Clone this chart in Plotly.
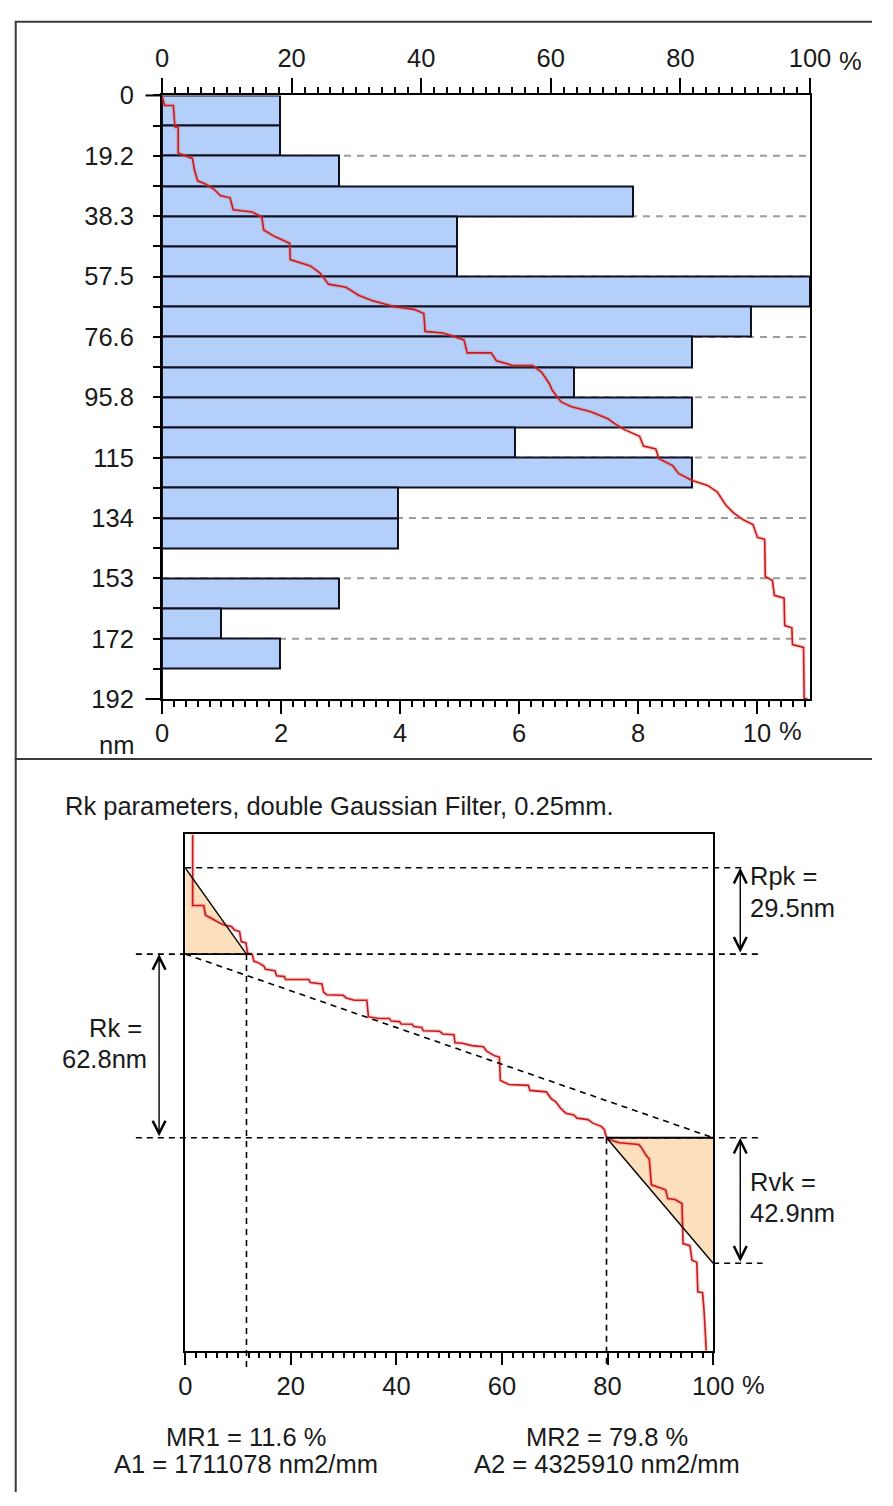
import plotly.graph_objects as go

W, H = 893, 1506
FONT = "Arial, Liberation Sans, sans-serif"
FS = 25.5
INK = "#1a1a1a"

# ---------------- upper panel: height distribution ----------------
class_edges = [0.0, 9.58, 19.16, 28.74, 38.32, 47.90, 57.48, 67.06, 76.64, 86.22,
               95.80, 105.38, 114.96, 124.54, 134.12, 143.70, 153.28, 162.86,
               172.44, 182.02, 191.60]
class_share = [1.98, 1.98, 2.97, 7.92, 4.95, 4.95, 10.89, 9.90, 8.91, 6.93,
               8.91, 5.94, 8.91, 3.96, 3.96, 0.00, 2.97, 0.99, 1.98, 0.00]
depth_ticktext = ["0", "19.2", "38.3", "57.5", "76.6", "95.8", "115", "134",
                  "153", "172", "192"]
share_ticks = [0, 2, 4, 6, 8, 10]
ratio_ticks = [0, 20, 40, 60, 80, 100]

# bearing-ratio curve of the profile (cumulative %, depth nm)
curve_ratio = [0.0, 0.4, 1.75, 2.0, 2.5, 2.5, 3.4, 4.7, 5.0, 5.5, 6.7, 8.0, 9.0,
               10.5, 11.0, 13.9, 15.4, 15.7, 17.4, 19.7, 19.8, 22.9, 24.4, 25.7,
               28.4, 30.4, 32.4, 35.9, 38.9, 40.4, 40.6, 43.3, 44.5, 46.6, 47.1,
               50.8, 51.6, 54.1, 57.2, 58.6, 59.8, 60.2, 61.6, 63.2, 66.2, 68.8,
               69.8, 71.3, 73.7, 74.3, 76.2, 76.7, 78.8, 79.7, 81.8, 84.2, 85.7,
               87.0, 88.2, 89.7, 91.2, 91.9, 93.0, 93.1, 94.2, 94.5, 96.0, 96.1,
               97.2, 97.3, 99.0, 99.1, 99.6]
curve_depth = [0.0, 3.2, 3.2, 10.0, 10.0, 18.3, 19.0, 20.0, 23.5, 27.1, 28.1,
               29.7, 31.8, 32.5, 36.3, 37.0, 38.6, 42.7, 44.8, 46.9, 52.1, 54.1,
               56.4, 59.9, 60.9, 63.5, 65.1, 67.1, 67.9, 69.2, 74.9, 75.4, 76.1,
               77.6, 81.7, 81.7, 84.2, 85.7, 85.7, 87.9, 91.6, 93.5, 97.3, 98.8,
               100.4, 102.6, 104.1, 106.0, 108.2, 111.3, 112.2, 115.3, 117.5,
               120.0, 122.2, 123.8, 125.9, 130.0, 132.5, 134.7, 136.2, 140.3,
               140.9, 152.7, 154.0, 158.7, 159.6, 168.3, 169.0, 174.3, 175.2,
               191.4, 191.6]

# ---------------- lower panel: Rk evaluation ----------------
rk_ratio = [1.41, 1.41, 3.5, 3.85, 5.1, 6.6, 7.5, 8.75, 9.36, 10.3, 10.6, 11.5,
            11.8, 12.7, 13.0, 13.9, 14.9, 15.2, 17.0, 17.3, 18.8, 19.0, 23.4,
            23.7, 25.9, 26.2, 26.8, 29.9, 30.5, 32.0, 34.4, 34.7, 36.6, 38.7,
            39.0, 40.6, 40.9, 43.0, 43.3, 44.8, 45.1, 48.2, 48.8, 50.9, 51.1,
            52.5, 54.3, 56.5, 57.1, 58.6, 59.5, 59.7, 61.3, 65.0, 65.3, 68.4,
            69.3, 70.2, 71.1, 72.1, 73.6, 74.2, 76.3, 77.2, 78.8, 79.4, 79.7,
            80.3, 82.2, 85.9, 86.4, 87.3, 87.9, 88.3, 89.5, 91.0, 91.4, 92.8,
            94.1, 94.3, 95.6, 96.0, 96.9, 97.1, 98.0, 98.3, 98.7]
rk_depth = [0.0, 24.3, 24.3, 27.6, 28.8, 30.4, 31.0, 31.5, 32.7, 33.2, 36.6,
            37.1, 40.5, 41.0, 43.3, 43.9, 45.0, 46.1, 46.6, 48.3, 48.6, 49.6,
            49.6, 50.6, 51.1, 53.9, 54.8, 55.0, 55.9, 56.7, 56.7, 62.3, 62.9,
            62.9, 63.8, 64.0, 64.8, 64.9, 65.7, 66.0, 67.1, 67.3, 68.2, 68.5,
            71.2, 71.4, 72.2, 72.6, 74.1, 75.7, 76.1, 84.1, 85.5, 85.8, 87.5,
            88.0, 90.3, 91.4, 93.6, 95.3, 95.9, 97.0, 97.5, 98.7, 99.8, 100.9,
            103.1, 104.3, 105.4, 106.0, 107.0, 109.7, 111.0, 119.8, 120.5,
            121.5, 124.5, 124.8, 126.2, 139.9, 140.6, 145.6, 146.3, 156.4,
            156.7, 163.4, 176.5]
RPK, RK, RVK = 29.5, 62.8, 42.9
MR1, MR2 = 11.6, 79.8
A1, A2 = 1711078, 4325910
RK_TOP = 40.9          # upper Rk level, nm below the highest peak
RK_DEPTH_MAX = 176.5   # profile depth shown in the lower panel
PEAK_LINE = RK_TOP - RPK
RK_BOTTOM = RK_TOP + RK
VALLEY_LINE = RK_BOTTOM + RVK


def px(x):
    return x / W


def py(y):
    return 1 - y / H


def dom3(depth):
    """Depth (nm) as a fraction of the lower panel height (reversed axis)."""
    return 1 - depth / RK_DEPTH_MAX


BAR_FILL = "#B4D0FA"
BAR_EDGE = "#101020"
RED = "#C81A1A"
PEACH = "#FCE0BE"
GRID = "#9C9C9C"

fig = go.Figure()

# histogram classes
centers = [(a + b) / 2 for a, b in zip(class_edges[:-1], class_edges[1:])]
widths = [b - a for a, b in zip(class_edges[:-1], class_edges[1:])]
fig.add_trace(go.Bar(
    x=class_share, y=centers, width=widths, orientation="h",
    marker=dict(color=BAR_FILL, line=dict(color=BAR_EDGE, width=2)),
    xaxis="x", yaxis="y", hoverinfo="skip", showlegend=False))

# bearing curve of the profile
fig.add_trace(go.Scatter(
    x=curve_ratio, y=curve_depth, mode="lines",
    line=dict(color="rgba(235,90,90,0.28)", width=4),
    xaxis="x2", yaxis="y", hoverinfo="skip", showlegend=False))
fig.add_trace(go.Scatter(
    x=curve_ratio, y=curve_depth, mode="lines",
    line=dict(color=RED, width=1.6),
    xaxis="x2", yaxis="y", hoverinfo="skip", showlegend=False))

# material ratio curve used for the Rk construction
fig.add_trace(go.Scatter(
    x=rk_ratio, y=rk_depth, mode="lines",
    line=dict(color="rgba(235,90,90,0.28)", width=4),
    xaxis="x3", yaxis="y3", hoverinfo="skip", showlegend=False))
fig.add_trace(go.Scatter(
    x=rk_ratio, y=rk_depth, mode="lines",
    line=dict(color=RED, width=1.6),
    xaxis="x3", yaxis="y3", hoverinfo="skip", showlegend=False))

shapes = []
# outer frame and panel divider
frame = dict(type="line", xref="paper", yref="paper",
             line=dict(color="#3a3a3a", width=2))
shapes.append({**frame, "x0": px(9), "x1": px(9), "y0": py(8), "y1": 0})
shapes.append({**frame, "x0": px(8), "x1": 1, "y0": py(8), "y1": py(8)})
shapes.append({**frame, "x0": px(8), "x1": 1, "y0": py(759), "y1": py(759)})

# long end ticks of the depth axis
for yy in (83, 698):
    shapes.append(dict(type="line", xref="paper", yref="paper",
                       x0=px(143), x1=px(160), y0=py(yy), y1=py(yy),
                       line=dict(color="black", width=2)))

# dashed guides at the labelled depths
for d in class_edges[2:-1:2]:
    shapes.append(dict(type="line", xref="x domain", yref="y", x0=0, x1=1,
                       y0=d, y1=d, layer="below",
                       line=dict(color=GRID, width=2, dash="7px,6px")))

# Rpk / Rvk areas
shapes.append(dict(type="path", xref="x3", yref="y3", layer="below",
                   path=f"M 0,{PEAK_LINE} L 0,{RK_TOP} L {MR1},{RK_TOP} Z",
                   fillcolor=PEACH, line=dict(width=0)))
shapes.append(dict(type="path", xref="x3", yref="y3", layer="below",
                   path=f"M {MR2},{RK_BOTTOM} L 100,{RK_BOTTOM} L 100,{VALLEY_LINE} Z",
                   fillcolor=PEACH, line=dict(width=0)))

dash_k = dict(color="black", width=1.6, dash="6px,5px")
# horizontal levels reaching outside the box
shapes.append(dict(type="line", xref="paper", yref="y3", x0=px(184), x1=px(762),
                   y0=PEAK_LINE, y1=PEAK_LINE, line=dash_k))
for lvl in (RK_TOP, RK_BOTTOM):
    shapes.append(dict(type="line", xref="paper", yref="y3", x0=px(133), x1=px(780),
                       y0=lvl, y1=lvl, line=dash_k))
shapes.append(dict(type="line", xref="paper", yref="y3", x0=px(729), x1=px(780),
                   y0=VALLEY_LINE, y1=VALLEY_LINE, line=dash_k))
# equivalent straight line
shapes.append(dict(type="line", xref="x3", yref="y3", x0=0, x1=100,
                   y0=RK_TOP, y1=RK_BOTTOM, line=dash_k))
# MR1 / MR2 verticals
shapes.append(dict(type="line", xref="x3", yref="y3 domain", x0=MR1, x1=MR1,
                   y0=dom3(RK_TOP), y1=-0.035, line=dash_k))
shapes.append(dict(type="line", xref="x3", yref="y3 domain", x0=MR2, x1=MR2,
                   y0=dom3(RK_BOTTOM), y1=-0.035, line=dash_k))
# triangle edges
solid = dict(color="black", width=1.4)
shapes.append(dict(type="line", xref="x3", yref="y3", x0=0, y0=PEAK_LINE,
                   x1=MR1, y1=RK_TOP, line=solid))
shapes.append(dict(type="line", xref="x3", yref="y3", x0=0, y0=RK_TOP,
                   x1=MR1, y1=RK_TOP, line=dict(color="black", width=1.8)))
shapes.append(dict(type="line", xref="x3", yref="y3", x0=MR2, y0=RK_BOTTOM,
                   x1=100, y1=RK_BOTTOM, line=dict(color="black", width=1.8)))
shapes.append(dict(type="line", xref="x3", yref="y3", x0=MR2, y0=RK_BOTTOM,
                   x1=100, y1=VALLEY_LINE, line=solid))

annotations = []


def text(s, x, y, xanchor="left", xref="paper", yref="paper"):
    annotations.append(dict(text=s, x=x, y=y, xref=xref, yref=yref,
                            xanchor=xanchor, yanchor="middle", showarrow=False,
                            font=dict(family=FONT, size=FS, color=INK)))


def dim_arrow(xd, top, bottom):
    annotations.append(dict(
        text="", xref="x3 domain", yref="y3", axref="x3 domain", ayref="y3",
        x=xd, y=top, ax=xd, ay=bottom, showarrow=True,
        arrowside="end+start", arrowhead=5, startarrowhead=5,
        arrowsize=1.8, startarrowsize=1.8, arrowwidth=1.4, arrowcolor="black",
        standoff=0, startstandoff=0))


# unit marks next to the last tick labels
text("%", px(795), py(731))
text("%", px(857), py(48))
text("%", px(757), py(1397))
text("nm", px(133), py(745), xanchor="right")

text("Rk parameters, double Gaussian Filter, 0.25mm.", px(58), py(807))
text("Rpk =", px(765), py(878))
text(f"{RPK}nm", px(765), py(911))
text("Rk =", px(141), py(1033), xanchor="right")
text(f"{RK}nm", px(147), py(1065), xanchor="right")
text("Rvk =", px(765), py(1190))
text(f"{RVK}nm", px(765), py(1222))
text(f"MR1 = {MR1} %", MR1, py(1450), xanchor="center", xref="x3")
text(f"A1 = {A1} nm2/mm", MR1, py(1477), xanchor="center", xref="x3")
text(f"MR2 = {MR2} %", MR2, py(1450), xanchor="center", xref="x3")
text(f"A2 = {A2} nm2/mm", MR2, py(1477), xanchor="center", xref="x3")

ARROW_R = (757 - 184) / (729 - 184)
ARROW_L = (157 - 184) / (729 - 184)
dim_arrow(ARROW_R, PEAK_LINE, RK_TOP)
dim_arrow(ARROW_L, RK_TOP, RK_BOTTOM)
dim_arrow(ARROW_R, RK_BOTTOM, VALLEY_LINE)

tickfont = dict(family=FONT, size=FS, color=INK)
axis_common = dict(showline=True, linecolor="black", linewidth=2, showgrid=False,
                   zeroline=False, tickcolor="black", tickfont=tickfont,
                   fixedrange=True)

depth_ticklabels = [depth_ticktext[i // 2] if i % 2 == 0 else ""
                    for i in range(len(class_edges))]

fig.update_layout(
    width=W, height=H, autosize=False,
    margin=dict(l=0, r=0, t=0, b=0),
    paper_bgcolor="white", plot_bgcolor="white",
    font=dict(family=FONT, size=FS, color=INK),
    bargap=0, showlegend=False,
    xaxis=dict(domain=[px(160), px(829)], anchor="y",
               range=[0, max(class_share)], tickmode="array",
               tickvals=share_ticks, ticktext=[str(t) for t in share_ticks],
               ticks="outside", ticklen=13, tickwidth=2, ticklabelstandoff=-3,
               minor=dict(tickmode="linear", tick0=0, dtick=0.2, ticks="outside",
                          ticklen=6, tickwidth=1.5, tickcolor="black"),
               **axis_common),
    xaxis2=dict(overlaying="x", side="top", anchor="y", range=[0, 100],
                tickmode="array", tickvals=ratio_ticks,
                ticktext=[str(t) for t in ratio_ticks],
                ticks="outside", ticklen=15, tickwidth=2, ticklabelstandoff=1,
                minor=dict(tickmode="linear", tick0=0, dtick=2, ticks="outside",
                           ticklen=6, tickwidth=1.5, tickcolor="black"),
                **axis_common),
    yaxis=dict(domain=[py(698), py(83)], anchor="x", range=[class_edges[-1], 0],
               tickmode="array", tickvals=class_edges, ticktext=depth_ticklabels,
               ticks="outside", ticklen=7, tickwidth=2, ticklabelstandoff=14,
               mirror=True, **axis_common),
    xaxis3=dict(domain=[px(184), px(729)], anchor="y3", range=[0, 100],
                tickmode="array", tickvals=ratio_ticks,
                ticktext=[str(t) for t in ratio_ticks],
                ticks="outside", ticklen=12, tickwidth=2, ticklabelstandoff=0,
                minor=dict(tickmode="linear", tick0=0, dtick=2, ticks="outside",
                           ticklen=5, tickwidth=1.5, tickcolor="black"),
                mirror=True, **axis_common),
    yaxis3=dict(domain=[py(1362), py(836)], anchor="x3",
                range=[RK_DEPTH_MAX, 0], showticklabels=False, ticks="",
                mirror=True, **axis_common),
    shapes=shapes,
    annotations=annotations,
)

fig.write_html("out.html")
